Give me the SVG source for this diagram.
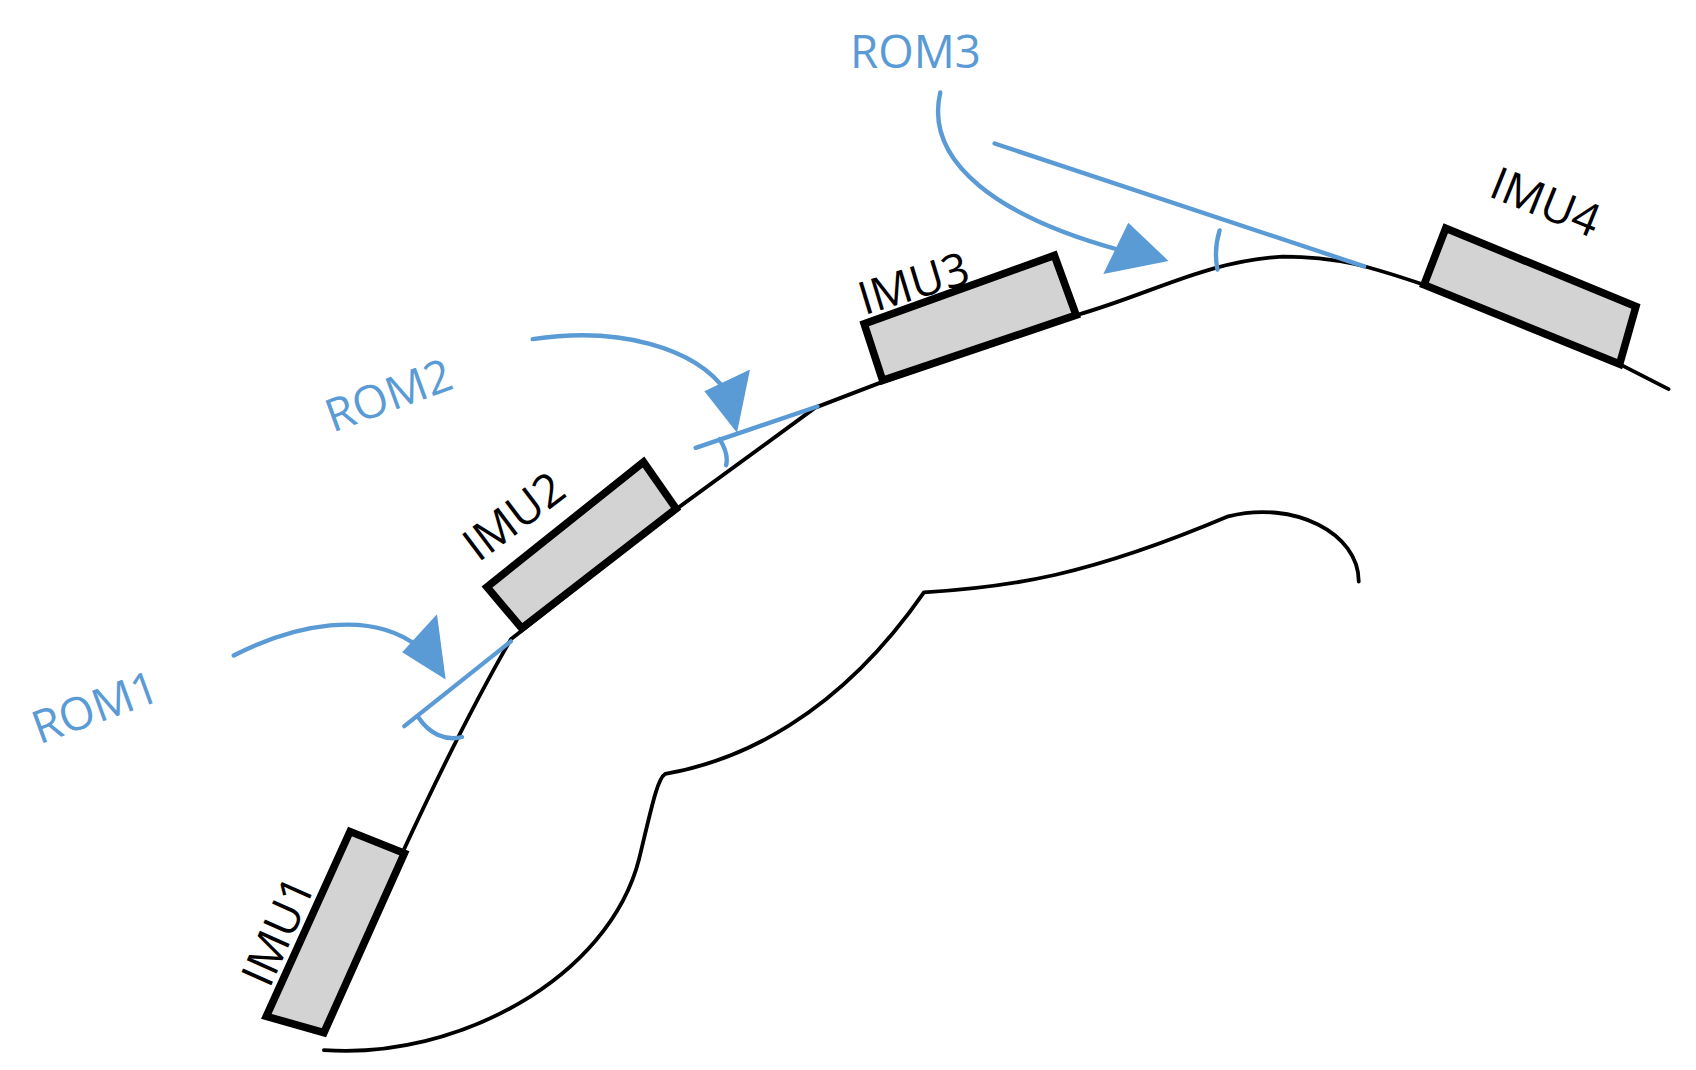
<svg xmlns="http://www.w3.org/2000/svg" width="1696" height="1070" viewBox="0 0 1696 1070">
<style>
.body{fill:none;stroke:#000;stroke-width:3.5;stroke-linecap:round;stroke-linejoin:round}
.imu{fill:#d3d3d3;stroke:#000;stroke-width:7;stroke-linejoin:miter}
.lbl{font-family:"Open Sans","Liberation Sans",sans-serif;font-size:42px;fill:#000}
.rom{font-family:"Open Sans","Liberation Sans",sans-serif;font-size:42px;fill:#5b9bd5}
.bl{fill:none;stroke:#5b9bd5;stroke-width:4;stroke-linecap:round}
.ah{fill:#5b9bd5}
</style>
<rect width="1696" height="1070" fill="#fff"/>
<g transform="scale(1.087)">
<g id="body">
<path class="body" d="M298,966 C420,975 560,900 588,790 C600,740 605,716 612,712 C680,700 770,660 850,545 C930,540 1000,530 1130,475 C1190,460 1250,490 1250,535"/>
<path class="body" d="M370,785 C400,720 440,640 470,588 L620,470 L750,375 L810,352 L990,290 C1060,270 1110,240 1180,236 C1230,236 1260,245 1310,262 L1490,335 L1535,358"/>
</g>
<g id="imu1"><polygon class="imu" points="245,935 298,950 372,785 322,765"/><text class="lbl" transform="translate(248,910) rotate(-66)">IMU1</text></g>
<g id="imu2"><polygon class="imu" points="448,540 480,578 622,468 592,425"/><text class="lbl" transform="translate(440,518) rotate(-37)">IMU2</text></g>
<g id="imu3"><polygon class="imu" points="795,298 812,350 990,290 970,235"/><text class="lbl" transform="translate(795,290) rotate(-17)">IMU3</text></g>
<g id="imu4"><polygon class="imu" points="1310,262 1490,335 1505,282 1330,210"/><text class="lbl" transform="translate(1368,180) rotate(22)">IMU4</text></g>
<g id="rom1">
<text class="rom" transform="translate(36,685) rotate(-20)">ROM1</text>
<path class="bl" d="M470,590 L372,668 M385,660 C395,675 410,682 425,678"/>
<path class="bl" d="M215,603 C270,575 340,560 385,595"/>
<polygon class="ah" points="410,625 370,600 402,565"/>
</g>
<g id="rom2">
<text class="rom" transform="translate(306,398) rotate(-20)">ROM2</text>
<path class="bl" d="M752,374 L640,412 M662,404 C667,412 670,420 668,428"/>
<path class="bl" d="M490,312 C570,300 640,320 668,360"/>
<polygon class="ah" points="678,398 648,360 690,340"/>
</g>
<g id="rom3">
<text class="rom" x="782" y="63">ROM3</text>
<path class="bl" d="M915,132 L1255,245 M1122,212 C1118,225 1118,238 1120,248"/>
<path class="bl" d="M865,85 C850,150 920,200 1030,230"/>
<polygon class="ah" points="1075,240 1038,205 1015,252"/>
</g>
</g>
</svg>
